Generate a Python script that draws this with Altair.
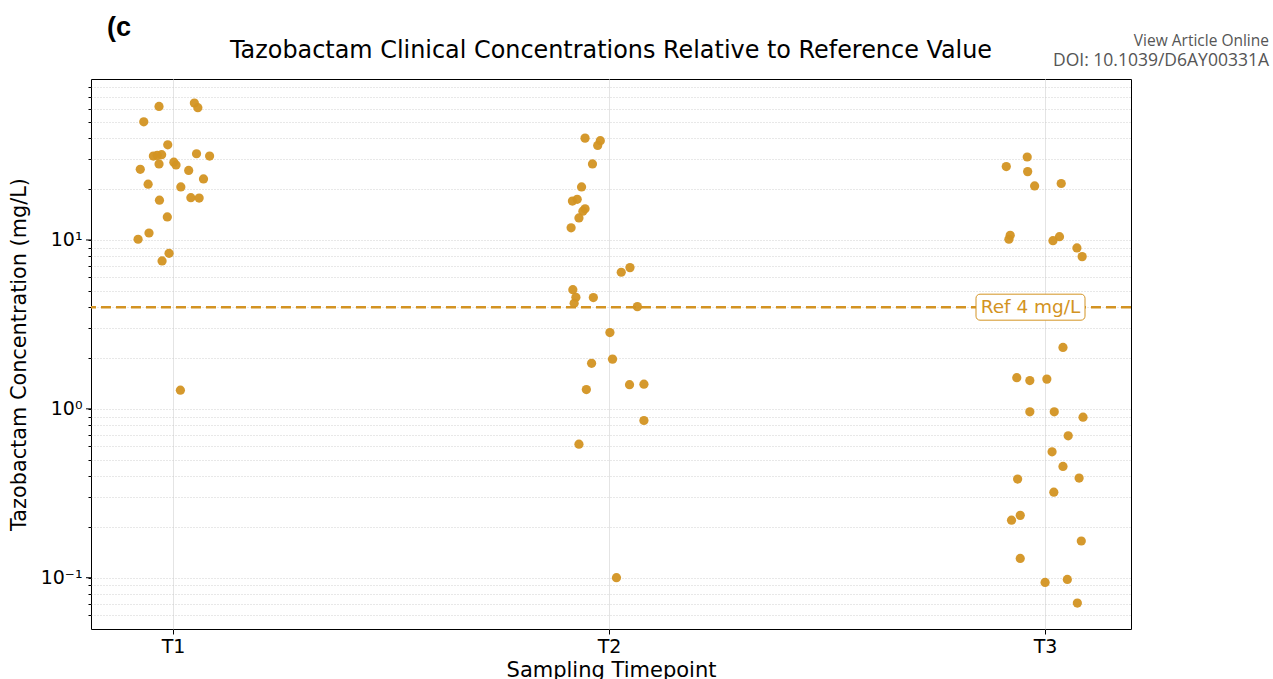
import altair as alt
import pandas as pd

# ---- data ----
timepoints = ["T1", "T2", "T3"]

t1_conc = [61.8, 64.7, 60.7, 50.1, 36.6, 31.4, 31.7, 32.0, 32.4, 31.4, 28.2, 28.9, 27.8, 26.2,
           25.8, 23.0, 21.4, 20.6, 17.8, 17.7, 17.2, 13.7, 11.0, 10.1, 8.34, 7.51, 1.29]
t1_jitter = [-0.032, 0.049, 0.057, -0.067, -0.012, -0.045, -0.036, -0.026, 0.054, 0.084, -0.032,
             0.002, 0.007, -0.075, 0.036, 0.070, -0.057, 0.018, 0.041, 0.060, -0.031, -0.013,
             -0.055, -0.080, -0.009, -0.025, 0.017]

t2_conc = [40.1, 38.7, 36.3, 28.2, 20.6, 17.0, 17.4, 15.3, 14.8, 13.5, 11.8, 6.86, 6.44, 5.08,
           4.58, 4.22, 4.56, 4.03, 2.83, 1.97, 1.86, 1.39, 1.40, 1.30, 0.853, 0.618, 0.100]
t2_jitter = [-0.055, -0.020, -0.026, -0.038, -0.063, -0.084, -0.073, -0.055, -0.060, -0.069,
             -0.087, 0.048, 0.028, -0.083, -0.076, -0.080, -0.036, 0.065, 0.002, 0.008, -0.040,
             0.047, 0.080, -0.052, 0.080, -0.069, 0.017]

t3_conc = [31.0, 27.2, 25.4, 20.9, 21.6, 10.66, 10.1, 10.46, 9.9, 8.97, 7.97, 2.31, 1.53, 1.47,
           1.50, 0.96, 0.96, 0.893, 0.692, 0.557, 0.456, 0.384, 0.389, 0.321, 0.234, 0.219,
           0.165, 0.130, 0.0938, 0.0977, 0.0708]
t3_jitter = [-0.041, -0.089, -0.040, -0.024, 0.037, -0.080, -0.083, 0.033, 0.018, 0.073, 0.085,
             0.041, -0.065, -0.035, 0.004, -0.035, 0.021, 0.087, 0.053, 0.016, 0.041, -0.063,
             0.078, 0.020, -0.057, -0.077, 0.083, -0.057, 0.000, 0.051, 0.074]

ref_value = 4
major_ticks = [0.1, 1, 10]
minor_ticks = [0.06, 0.07, 0.08, 0.09, 0.2, 0.3, 0.4, 0.5, 0.6, 0.7, 0.8, 0.9,
               2, 3, 4, 5, 6, 7, 8, 9, 20, 30, 40, 50, 60, 70, 80]

title_text = "Tazobactam Clinical Concentrations Relative to Reference Value"
panel_text = "(c"
header_lines = ["View Article Online", "DOI: 10.1039/D6AY00331A"]

# ---- build tables ----
rows = []
for i, (tp, conc, jit) in enumerate(zip(timepoints, [t1_conc, t2_conc, t3_conc],
                                        [t1_jitter, t2_jitter, t3_jitter])):
    for c, j in zip(conc, jit):
        rows.append({"Timepoint": tp, "pos": i + j, "conc": c})
points_df = pd.DataFrame(rows)
ref_df = pd.DataFrame({"ref": [ref_value], "label": [f"Ref {ref_value} mg/L"]})
major_df = pd.DataFrame({"v": major_ticks})

ORANGE = "#D39322"
FONT = "DejaVu Sans"

yscale = alt.Scale(type="log", domain=[0.0497, 89.8], nice=False)
xscale = alt.Scale(domain=[-0.188, 2.197], nice=False, zero=False)

label_expr = ("datum.value == 10 ? '10\u00b9' : datum.value == 1 ? '10\u2070' : "
              "datum.value == 0.1 ? '10\u207b\u00b9' : ''")

yaxis = alt.Axis(title="Tazobactam Concentration (mg/L)",
                 values=major_ticks + minor_ticks, labelExpr=label_expr,
                 labelOverlap=False, grid=True, gridColor="#c4c4c4",
                 gridDash=[1, 2], gridWidth=0.8, tickSize=3, labelPadding=6,
                 titlePadding=11, labelFontSize=19, titleFontSize=20.8)

xaxis = alt.Axis(title="Sampling Timepoint", values=[0, 1, 2],
                 labelExpr="['T1','T2','T3'][datum.value]",
                 grid=True, gridColor="#e4e4e4", gridWidth=1,
                 tickSize=5, labelPadding=3, titlePadding=3,
                 labelFontSize=19, titleFontSize=21)

points = alt.Chart(points_df).mark_circle(size=85, color=ORANGE, opacity=0.95).encode(
    x=alt.X("pos:Q", scale=xscale, axis=xaxis),
    y=alt.Y("conc:Q", scale=yscale, axis=yaxis),
    tooltip=["Timepoint", "conc"],
)

ref_line = alt.Chart(ref_df).mark_rule(color=ORANGE, strokeWidth=2.5, strokeDash=[10, 5]).encode(
    y=alt.Y("ref:Q", scale=yscale, axis=yaxis)
)

major_tick_marks = alt.Chart(major_df).mark_rule(color="black", strokeWidth=1).encode(
    y=alt.Y("v:Q", scale=yscale, axis=yaxis), x=alt.value(-5), x2=alt.value(0)
)

ref_box = alt.Chart(ref_df).mark_rect(
    fill="white", stroke=ORANGE, strokeWidth=1, cornerRadius=4, yOffset=-13, y2Offset=13
).encode(
    y=alt.Y("ref:Q", scale=yscale, axis=yaxis), y2="ref:Q",
    x=alt.value(885), x2=alt.value(994)
)

ref_text = alt.Chart(ref_df).mark_text(
    color=ORANGE, font=FONT, fontSize=18.5, align="center", baseline="middle"
).encode(
    y=alt.Y("ref:Q", scale=yscale, axis=yaxis), x=alt.value(939.5), text="label:N"
)

title_mark = alt.Chart(pd.DataFrame({"t": [title_text]})).mark_text(
    font=FONT, fontSize=23.9, align="center", baseline="alphabetic", color="black"
).encode(x=alt.value(520), y=alt.value(-21), text="t:N")

panel_label = alt.Chart(pd.DataFrame({"t": [panel_text]})).mark_text(
    font="Liberation Sans", fontWeight="bold", fontSize=27, align="left",
    baseline="alphabetic", color="black"
).encode(x=alt.value(16), y=alt.value(-43), text="t:N")

view_online = alt.Chart(pd.DataFrame({"t": [header_lines[0]]})).mark_text(
    font="Open Sans", fontSize=15.5, align="right", baseline="alphabetic", color="#555555"
).encode(x=alt.value(1178), y=alt.value(-33), text="t:N")
doi_text = alt.Chart(pd.DataFrame({"t": [header_lines[1]]})).mark_text(
    font="Open Sans", fontSize=17.5, align="right", baseline="alphabetic", color="#555555"
).encode(x=alt.value(1178), y=alt.value(-13), text="t:N")

chart = alt.layer(
    points, ref_line, major_tick_marks, ref_box, ref_text,
    title_mark, panel_label, view_online, doi_text
).properties(
    width=1040,
    height=550,
    padding={"left": 91, "top": 79, "right": 142, "bottom": 50},
    autosize=alt.AutoSizeParams(type="none"),
).configure_view(
    stroke="black", strokeWidth=1
).configure_axis(
    labelFont=FONT, titleFont=FONT, labelColor="black", titleColor="black",
    titleFontWeight="normal", tickColor="black", domain=False,
)

chart.save("out.html", embed_options={"renderer": "svg", "actions": False})
